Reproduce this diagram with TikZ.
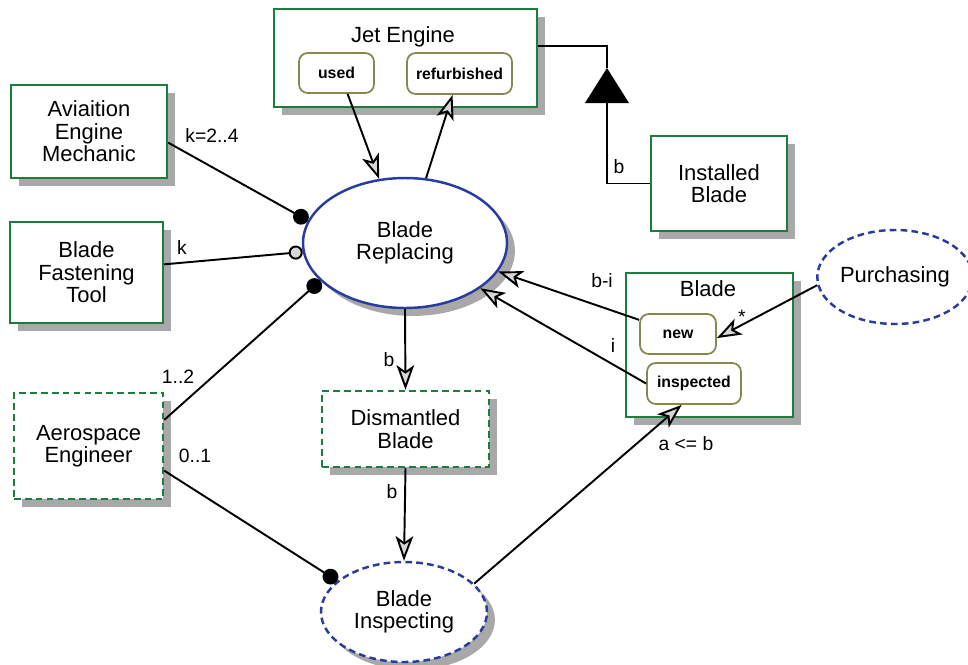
\documentclass[tikz,border=0pt]{standalone}
\usepackage{fontspec}
\setmainfont{Liberation Sans}
\usetikzlibrary{shapes.geometric, arrows.meta, shadows}
\definecolor{objgreen}{RGB}{30,125,60}
\definecolor{procblue}{RGB}{40,60,160}
\definecolor{stateolive}{RGB}{135,135,80}
\definecolor{shadowgray}{RGB}{168,168,168}
\definecolor{tipgray}{RGB}{215,215,215}

\def\px{0.02cm}  % one pixel of the sketch

\tikzset{
  shadowed/.style={drop shadow={shadow xshift=4.5pt, shadow yshift=-4.5pt, fill=shadowgray, opacity=1}},
  objbox/.style={draw=objgreen, line width=1.4pt, fill=white, inner sep=0pt, align=center,
    font=\fontsize{12.5}{12.8}\selectfont, shadowed},
  envbox/.style={objbox, dash pattern=on 3.8pt off 2.4pt},
  objtitle/.style={inner sep=1pt, font=\fontsize{12.5}{12.8}\selectfont},
  statebox/.style={draw=stateolive, line width=1pt, rounded corners=5pt, fill=white, inner sep=0pt,
    font=\bfseries\fontsize{9}{10}\selectfont},
  procellipse/.style={ellipse, draw=procblue, line width=1.4pt, fill=white, inner sep=0pt, align=center,
    font=\fontsize{12.5}{12.8}\selectfont},
  envellipse/.style={procellipse, dash pattern=on 3.8pt off 2.4pt},
  flowline/.style={line width=1.1pt, draw=black},
  openarrow/.style={flowline, -{Stealth[length=14pt, width=10pt, inset=3.5pt, fill=tipgray]}},
  agentlink/.style={flowline, -{Circle[length=9pt]}},
  instrlink/.style={flowline, -{Circle[length=8pt, fill=tipgray]}},
  mult/.style={inner sep=1pt, font=\fontsize{11}{12}\selectfont},
}

\begin{document}
\begin{tikzpicture}[x=0.02cm, y=-0.02cm]
  \useasboundingbox (0,0) rectangle (968,664);

  % --- objects ---
  \node[objbox, minimum width=263*\px, minimum height=98*\px] (jet) at (405.5,58) {};
  \node[objtitle] (jet-title) at (403,37) {Jet Engine};
  \node[statebox, minimum width=75*\px, minimum height=40*\px] (used) at (336.5,73) {used};
  \node[statebox, minimum width=105*\px, minimum height=41*\px] (refurb) at (459.5,73.5) {refurbished};

  \node[objbox, minimum width=156*\px, minimum height=93*\px] (mech) at (89,131.5) {Aviaition\\Engine\\Mechanic};
  \node[objbox, minimum width=153*\px, minimum height=101*\px] (tool) at (86.5,272.5) {Blade\\Fastening\\Tool};
  \node[objbox, minimum width=136*\px, minimum height=95*\px] (inst) at (719,183.5) {Installed\\Blade};

  \node[objbox, minimum width=167*\px, minimum height=144*\px] (blade) at (709.5,345) {};
  \node[objtitle] (blade-title) at (708,289) {Blade};
  \node[statebox, minimum width=76*\px, minimum height=40*\px] (new) at (678,334) {new};
  \node[statebox, minimum width=94*\px, minimum height=41*\px] (inspd) at (694,383.5) {inspected};

  % environmental objects (dashed)
  \node[envbox, minimum width=149*\px, minimum height=106*\px] (aero) at (88.5,446) {Aerospace\\Engineer};
  \node[envbox, minimum width=167*\px, minimum height=76*\px] (dism) at (405.5,429) {Dismantled\\Blade};

  % --- processes ---
  \node[procellipse, shadowed, minimum width=204*\px, minimum height=130*\px] (rep) at (405,243) {Blade\\Replacing};
  \node[envellipse, minimum width=146*\px, minimum height=94*\px] (purch) at (895,277) {Purchasing};
  \node[envellipse, shadowed, minimum width=166*\px, minimum height=100*\px] (insp) at (404,612) {Blade\\Inspecting};

  % --- generalization ---
  \coordinate (gen-apex) at (607,68);
  \coordinate (gen-base) at (607,103);
  \draw[flowline] (jet.5) -| (gen-apex);
  \fill (gen-apex) -- (585,103) -- (629,103) -- cycle;
  \draw[flowline] (gen-base) |- (inst.west);

  % --- agent and instrument links ---
  \draw[agentlink] (mech.-8) -- (rep.167);
  \draw[instrlink] (tool.6) -- (rep.185);
  \draw[agentlink] (aero.19) -- (rep.204);
  \draw[agentlink] (aero.-18) -- (insp.155);

  % --- consumption and result links ---
  \draw[openarrow] (used.-62) -- (rep.112);
  \draw[openarrow] (rep.72) -- (refurb.-108);
  \draw[openarrow] (rep.south) -- (dism.north);
  \draw[openarrow] (dism.south) -- (insp.north);
  \draw[openarrow] (new.160) -- (rep.-17);
  \draw[openarrow] (inspd.west) -- (rep.-31);
  \draw[openarrow] (purch.186) -- (new.-6);
  \draw[openarrow] (insp.22) -- (inspd.-120);

  % --- labels ---
  \node[mult] (lbl-mech) at (212,135) {k=2..4};
  \node[mult] (lbl-tool) at (182,247) {k};
  \node[mult] (lbl-aero-rep) at (178,377) {1..2};
  \node[mult] (lbl-aero-insp) at (195,456) {0..1};
  \node[mult] (lbl-inst) at (619,167) {b};
  \node[mult] (lbl-dism-in) at (389,360) {b};
  \node[mult] (lbl-dism-out) at (392,492) {b};
  \node[mult] (lbl-new) at (602,281) {b-i};
  \node[mult] (lbl-inspd) at (613,345) {i};
  \node[mult] (lbl-purch) at (742,317) {*};
  \node[mult] (lbl-insp) at (686,444) {a <= b};
\end{tikzpicture}
\end{document}
